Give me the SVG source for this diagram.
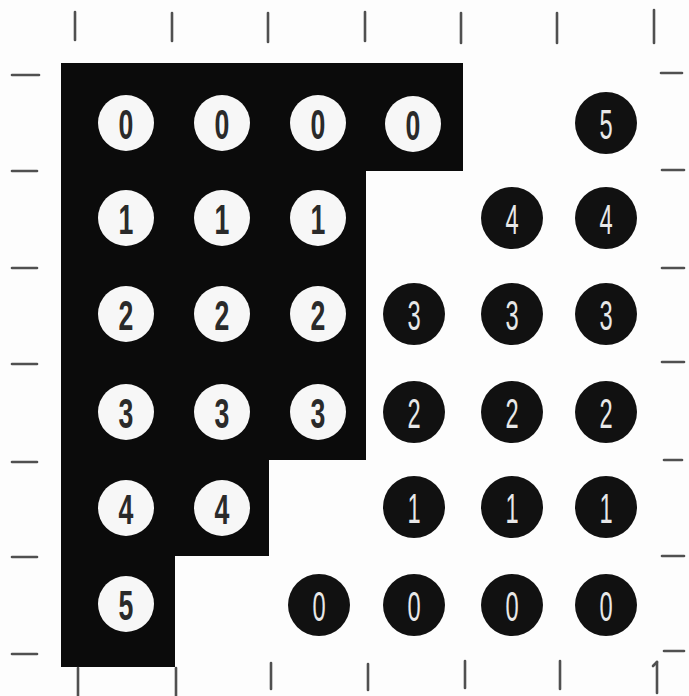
<svg xmlns="http://www.w3.org/2000/svg" width="689" height="696" viewBox="0 0 689 696">
<style>
.bg{fill:#fdfdfd}
.region{fill:#0b0b0b}
.tick{stroke:#505050;stroke-width:2.6;stroke-linecap:round;fill:none}
.wc{fill:#f7f7f7}
.bc{fill:#111}
.wt{fill:#2a2a2a;font-family:"Liberation Sans Narrow","Liberation Sans",Arial,sans-serif;font-weight:bold;font-size:43px;text-anchor:middle}
.bt{fill:#e8e8e8;font-family:"Liberation Sans Narrow","Liberation Sans",Arial,sans-serif;font-weight:normal;font-size:43px;text-anchor:middle}
</style>
<defs>
<g id="wcirc"><circle class="wc" r="28"/></g>
<g id="bcirc"><circle class="bc" r="31"/></g>
</defs>
<rect class="bg" width="689" height="696"/>
<g id="region">
<polygon class="region" points="61,63 463,63 463,171 366,171 366,460 269,460 269,556 175,556 175,667 61,667"/>
</g>
<g id="ticks">
<line class="tick" x1="75" y1="12" x2="75" y2="40"/>
<line class="tick" x1="172" y1="13" x2="172" y2="41"/>
<line class="tick" x1="268" y1="13" x2="268" y2="42"/>
<line class="tick" x1="365" y1="12" x2="365" y2="41"/>
<line class="tick" x1="461" y1="13" x2="461" y2="43"/>
<line class="tick" x1="557" y1="13" x2="557" y2="43"/>
<line class="tick" x1="654" y1="10" x2="654" y2="43"/>
<line class="tick" x1="12" y1="75" x2="39" y2="75"/>
<line class="tick" x1="12" y1="171" x2="37" y2="171"/>
<line class="tick" x1="12" y1="268" x2="37" y2="268"/>
<line class="tick" x1="12" y1="364" x2="37" y2="364"/>
<line class="tick" x1="12" y1="462" x2="37" y2="462"/>
<line class="tick" x1="12" y1="557" x2="37" y2="557"/>
<line class="tick" x1="12" y1="654" x2="37" y2="654"/>
<line class="tick" x1="661" y1="73" x2="682" y2="73"/>
<line class="tick" x1="662" y1="170" x2="684" y2="170"/>
<line class="tick" x1="662" y1="268" x2="684" y2="268"/>
<line class="tick" x1="662" y1="362" x2="684" y2="362"/>
<line class="tick" x1="664" y1="460" x2="682" y2="460"/>
<line class="tick" x1="662" y1="556" x2="684" y2="556"/>
<line class="tick" x1="664" y1="651" x2="684" y2="651"/>
<line class="tick" x1="78" y1="668" x2="78" y2="696"/>
<line class="tick" x1="176" y1="668" x2="176" y2="696"/>
<line class="tick" x1="271" y1="663" x2="271" y2="689"/>
<line class="tick" x1="368" y1="664" x2="368" y2="690"/>
<line class="tick" x1="465" y1="661" x2="465" y2="688"/>
<line class="tick" x1="560" y1="661" x2="560" y2="689"/>
<line class="tick" x1="657" y1="662" x2="657" y2="693"/>
<line class="tick" x1="657" y1="662" x2="653" y2="666"/>
</g>
<g id="connectors"></g>
<g id="w-r0-c0" transform="translate(126,123)"><use href="#wcirc"/><text class="wt" transform="scale(0.62,1)" y="15.5">0</text></g>
<g id="w-r0-c1" transform="translate(222,123)"><use href="#wcirc"/><text class="wt" transform="scale(0.62,1)" y="15.5">0</text></g>
<g id="w-r0-c2" transform="translate(318,123)"><use href="#wcirc"/><text class="wt" transform="scale(0.62,1)" y="15.5">0</text></g>
<g id="w-r0-c3" transform="translate(413,124)"><use href="#wcirc"/><text class="wt" transform="scale(0.62,1)" y="15.5">0</text></g>
<g id="w-r1-c0" transform="translate(126,218)"><use href="#wcirc"/><text class="wt" transform="scale(0.62,1)" y="15.5">1</text></g>
<g id="w-r1-c1" transform="translate(222,218)"><use href="#wcirc"/><text class="wt" transform="scale(0.62,1)" y="15.5">1</text></g>
<g id="w-r1-c2" transform="translate(318,218)"><use href="#wcirc"/><text class="wt" transform="scale(0.62,1)" y="15.5">1</text></g>
<g id="w-r2-c0" transform="translate(126,314)"><use href="#wcirc"/><text class="wt" transform="scale(0.62,1)" y="15.5">2</text></g>
<g id="w-r2-c1" transform="translate(222,314)"><use href="#wcirc"/><text class="wt" transform="scale(0.62,1)" y="15.5">2</text></g>
<g id="w-r2-c2" transform="translate(318,314)"><use href="#wcirc"/><text class="wt" transform="scale(0.62,1)" y="15.5">2</text></g>
<g id="w-r3-c0" transform="translate(126,412)"><use href="#wcirc"/><text class="wt" transform="scale(0.62,1)" y="15.5">3</text></g>
<g id="w-r3-c1" transform="translate(222,412)"><use href="#wcirc"/><text class="wt" transform="scale(0.62,1)" y="15.5">3</text></g>
<g id="w-r3-c2" transform="translate(318,412)"><use href="#wcirc"/><text class="wt" transform="scale(0.62,1)" y="15.5">3</text></g>
<g id="w-r4-c0" transform="translate(126,508)"><use href="#wcirc"/><text class="wt" transform="scale(0.62,1)" y="15.5">4</text></g>
<g id="w-r4-c1" transform="translate(222,508)"><use href="#wcirc"/><text class="wt" transform="scale(0.62,1)" y="15.5">4</text></g>
<g id="w-r5-c0" transform="translate(126,604)"><use href="#wcirc"/><text class="wt" transform="scale(0.62,1)" y="15.5">5</text></g>
<g id="b-r0-c5" transform="translate(606,123)"><use href="#bcirc"/><text class="bt" transform="scale(0.55,1)" y="15.5">5</text></g>
<g id="b-r1-c4" transform="translate(512,218)"><use href="#bcirc"/><text class="bt" transform="scale(0.55,1)" y="15.5">4</text></g>
<g id="b-r1-c5" transform="translate(606,218)"><use href="#bcirc"/><text class="bt" transform="scale(0.55,1)" y="15.5">4</text></g>
<g id="b-r2-c3" transform="translate(414,314)"><use href="#bcirc"/><text class="bt" transform="scale(0.55,1)" y="15.5">3</text></g>
<g id="b-r2-c4" transform="translate(512,314)"><use href="#bcirc"/><text class="bt" transform="scale(0.55,1)" y="15.5">3</text></g>
<g id="b-r2-c5" transform="translate(606,314)"><use href="#bcirc"/><text class="bt" transform="scale(0.55,1)" y="15.5">3</text></g>
<g id="b-r3-c3" transform="translate(414,412)"><use href="#bcirc"/><text class="bt" transform="scale(0.55,1)" y="15.5">2</text></g>
<g id="b-r3-c4" transform="translate(512,412)"><use href="#bcirc"/><text class="bt" transform="scale(0.55,1)" y="15.5">2</text></g>
<g id="b-r3-c5" transform="translate(606,412)"><use href="#bcirc"/><text class="bt" transform="scale(0.55,1)" y="15.5">2</text></g>
<g id="b-r4-c3" transform="translate(414,507)"><use href="#bcirc"/><text class="bt" transform="scale(0.55,1)" y="15.5">1</text></g>
<g id="b-r4-c4" transform="translate(512,507)"><use href="#bcirc"/><text class="bt" transform="scale(0.55,1)" y="15.5">1</text></g>
<g id="b-r4-c5" transform="translate(606,507)"><use href="#bcirc"/><text class="bt" transform="scale(0.55,1)" y="15.5">1</text></g>
<g id="b-r5-c2" transform="translate(319,605)"><use href="#bcirc"/><text class="bt" transform="scale(0.55,1)" y="15.5">0</text></g>
<g id="b-r5-c3" transform="translate(414,605)"><use href="#bcirc"/><text class="bt" transform="scale(0.55,1)" y="15.5">0</text></g>
<g id="b-r5-c4" transform="translate(512,605)"><use href="#bcirc"/><text class="bt" transform="scale(0.55,1)" y="15.5">0</text></g>
<g id="b-r5-c5" transform="translate(606,605)"><use href="#bcirc"/><text class="bt" transform="scale(0.55,1)" y="15.5">0</text></g>
</svg>
